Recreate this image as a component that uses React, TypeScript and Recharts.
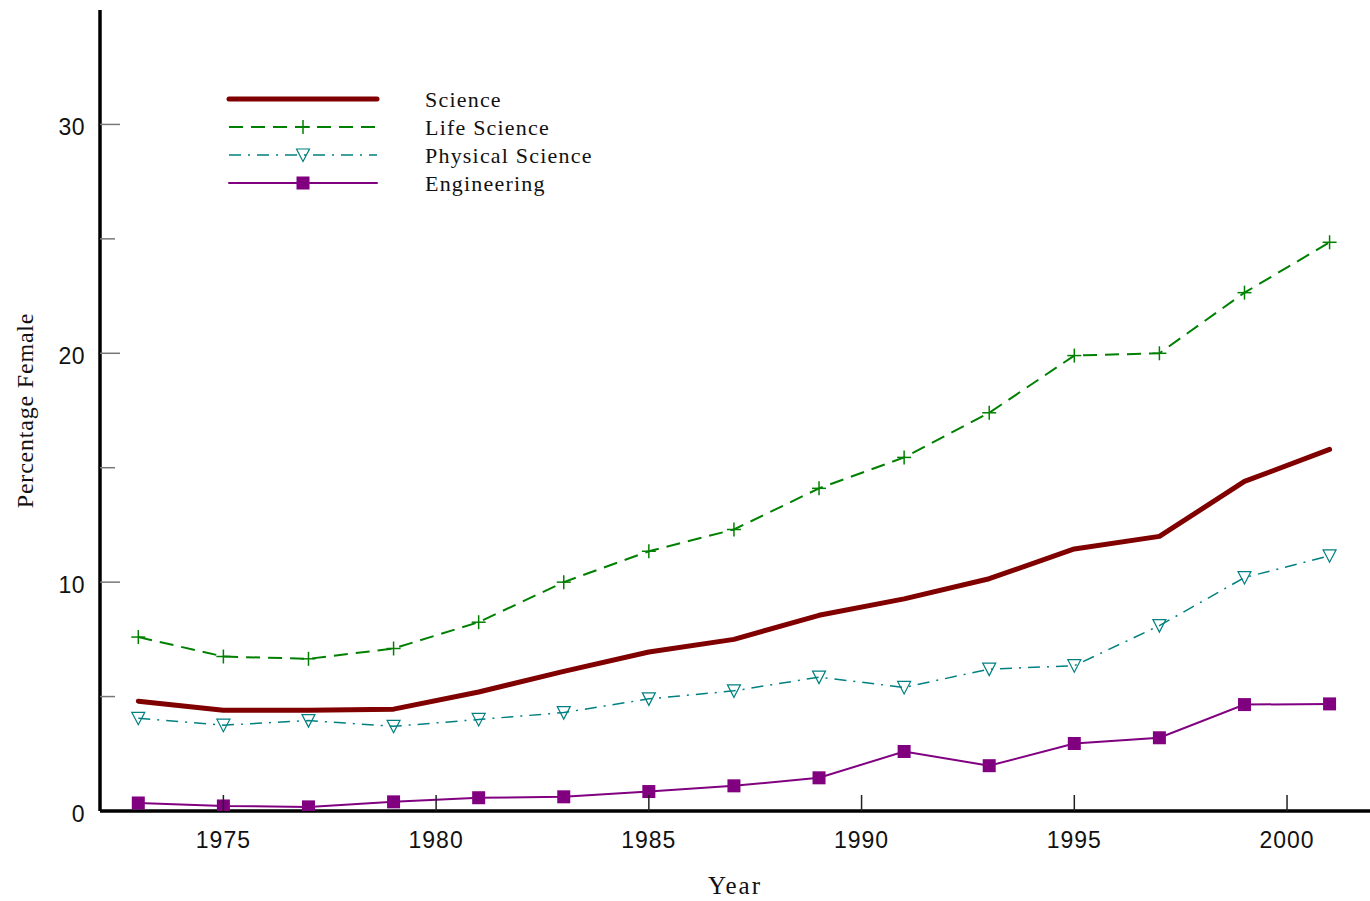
import React from 'react';
import { LineChart, Line, XAxis, YAxis } from 'recharts';

// survey years
const years = [1973, 1975, 1977, 1979, 1981, 1983, 1985, 1987, 1989, 1991, 1993, 1995, 1997, 1999, 2001];

// percentage female
const science = [4.8, 4.4, 4.4, 4.45, 5.2, 6.1, 6.95, 7.5, 8.55, 9.27, 10.15, 11.45, 12.0, 14.4, 15.8];
const lifeScience = [7.6, 6.75, 6.65, 7.1, 8.25, 10.0, 11.35, 12.3, 14.1, 15.45, 17.4, 19.9, 20.0, 22.65, 24.85];
const physicalScience = [4.05, 3.75, 3.95, 3.7, 4.0, 4.3, 4.9, 5.25, 5.85, 5.4, 6.2, 6.35, 8.1, 10.2, 11.15];
const engineering = [0.35, 0.22, 0.18, 0.4, 0.58, 0.62, 0.85, 1.1, 1.45, 2.6, 1.98, 2.95, 3.2, 4.65, 4.68];

const xTicks = [1975, 1980, 1985, 1990, 1995, 2000];
const yTicks = [0, 5, 10, 15, 20, 25, 30];

const data = years.map((year, i) => ({
  year,
  science: science[i],
  life: lifeScience[i],
  physical: physicalScience[i],
  engineering: engineering[i],
}));

const SANS = '"Liberation Sans", Arial, sans-serif';
const SERIF = '"Liberation Serif", "Times New Roman", serif';

const GREEN = '#008000';
const TEAL = '#008080';
const PURPLE = '#800080';
const MAROON = '#800000';

const plusShape = (cx, cy, key?) => (
  <g key={key}>
    <line x1={cx - 7} x2={cx + 7} y1={cy} y2={cy} stroke={GREEN} strokeWidth={1.5} />
    <line x1={cx} x2={cx} y1={cy - 7} y2={cy + 7} stroke={GREEN} strokeWidth={1.5} />
  </g>
);

const triangleShape = (cx, cy, key?) => (
  <polygon
    key={key}
    points={`${cx - 6.5},${cy - 6} ${cx + 6.5},${cy - 6} ${cx},${cy + 6.5}`}
    fill="none"
    stroke={TEAL}
    strokeWidth={1.2}
  />
);

const squareShape = (cx, cy, key?) => (
  <rect key={key} x={cx - 6.5} y={cy - 6.5} width={13} height={13} fill={PURPLE} />
);

const legendItems = [
  { name: 'Science', color: MAROON, width: 5, dash: undefined, marker: null },
  { name: 'Life Science', color: GREEN, width: 2, dash: '14 8', marker: plusShape },
  { name: 'Physical Science', color: TEAL, width: 1.5, dash: '12 7 2 7', marker: triangleShape },
  { name: 'Engineering', color: PURPLE, width: 2, dash: undefined, marker: squareShape },
];

const XTick = ({ x, y, payload }) => (
  <g>
    <line x1={x} x2={x} y1={y} y2={y - 16} stroke="#222" strokeWidth={1.5} />
    <text x={x} y={y + 37} textAnchor="middle" fontFamily={SANS} fontSize={23} letterSpacing={1} fill="#111">
      {payload.value}
    </text>
  </g>
);

const YTick = ({ x, y, payload }) => {
  const major = payload.value % 10 === 0;
  return (
    <g>
      {payload.value !== 0 && (
        <line x1={x} x2={x + (major ? 20 : 15)} y1={y} y2={y} stroke="#777" strokeWidth={1.5} />
      )}
      {major && (
        <text x={x - 15} y={y + 11} textAnchor="end" fontFamily={SANS} fontSize={23} letterSpacing={0.5} fill="#111">
          {payload.value}
        </text>
      )}
    </g>
  );
};

const Legend = () => (
  <svg width={420} height={120} style={{ position: 'absolute', left: 200, top: 80 }}>
    {legendItems.map((item, i) => {
      const y = 19 + i * 28;
      return (
        <g key={item.name}>
          <line
            x1={29}
            x2={177}
            y1={y}
            y2={y}
            stroke={item.color}
            strokeWidth={item.width}
            strokeDasharray={item.dash}
            strokeLinecap={item.dash ? 'butt' : 'round'}
          />
          {item.marker && item.marker(103, y)}
          <text x={225} y={y + 8} fontFamily={SERIF} fontSize={22} letterSpacing={1.2} fill="#111">
            {item.name}
          </text>
        </g>
      );
    })}
  </svg>
);

const App = () => {
  return (
    <div style={{ position: 'relative', width: 1370, height: 901 }}>
      <style>{'body{margin:0}'}</style>
      <LineChart width={1370} height={901} data={data} margin={{ top: 10, right: 0, bottom: 0, left: 0 }}>
        <XAxis
          dataKey="year"
          type="number"
          domain={[1972.1, 2001.95]}
          ticks={xTicks}
          allowDataOverflow
          height={90}
          tickSize={0}
          tickMargin={0}
          tickLine={false}
          tick={<XTick />}
          axisLine={{ stroke: '#000', strokeWidth: 3.5 }}
          label={{
            value: 'Year',
            position: 'insideBottom',
            offset: 7,
            fontFamily: SERIF,
            fontSize: 25,
            letterSpacing: 2,
            fill: '#111',
          }}
        />
        <YAxis
          type="number"
          domain={[0, 35]}
          ticks={yTicks}
          allowDataOverflow
          width={100}
          tickSize={0}
          tickMargin={0}
          tickLine={false}
          tick={<YTick />}
          axisLine={{ stroke: '#000', strokeWidth: 3.5 }}
          label={{
            value: 'Percentage Female',
            angle: -90,
            position: 'insideLeft',
            offset: 24,
            style: { textAnchor: 'middle' },
            fontFamily: SERIF,
            fontSize: 24,
            letterSpacing: 0.8,
            fill: '#111',
          }}
        />
        <Line
          dataKey="life"
          stroke={GREEN}
          strokeWidth={2}
          strokeDasharray="14 8"
          isAnimationActive={false}
          dot={(p) => plusShape(p.cx, p.cy, p.index)}
          activeDot={false}
        />
        <Line
          dataKey="physical"
          stroke={TEAL}
          strokeWidth={1.5}
          strokeDasharray="12 7 2 7"
          isAnimationActive={false}
          dot={(p) => triangleShape(p.cx, p.cy, p.index)}
          activeDot={false}
        />
        <Line
          dataKey="engineering"
          stroke={PURPLE}
          strokeWidth={2}
          isAnimationActive={false}
          dot={(p) => squareShape(p.cx, p.cy, p.index)}
          activeDot={false}
        />
        <Line
          dataKey="science"
          stroke={MAROON}
          strokeWidth={5}
          strokeLinecap="round"
          strokeLinejoin="round"
          isAnimationActive={false}
          dot={false}
          activeDot={false}
        />
      </LineChart>
      <Legend />
    </div>
  );
};

export default App;
